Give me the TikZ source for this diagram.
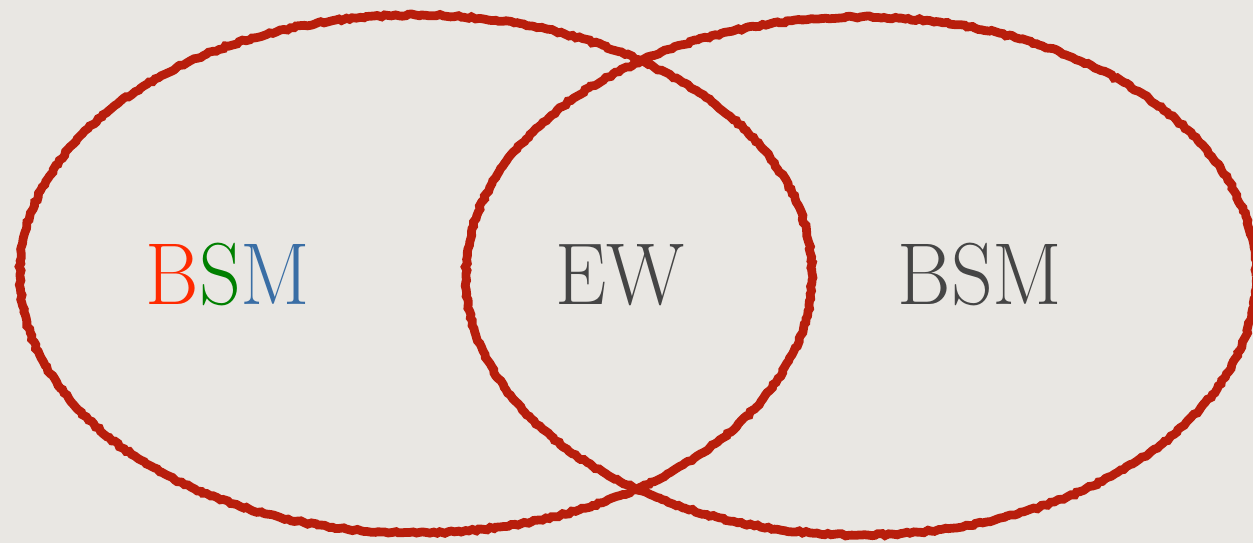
\documentclass[tikz,border=0pt]{standalone}
\usepackage{tikz}
\usetikzlibrary{decorations.pathmorphing}
\definecolor{paper}{HTML}{E9E7E3}
\definecolor{chalk}{HTML}{B81E0C}
\definecolor{inkgray}{HTML}{454545}
\definecolor{bred}{HTML}{FF2A00}
\definecolor{sgreen}{HTML}{008000}
\definecolor{mblue}{HTML}{3A6EA5}

\begin{document}
\begin{tikzpicture}[
  ring/.style={draw=chalk, line width=5pt,
    decorate, decoration={random steps, segment length=2pt, amplitude=0.6pt}},
  word/.style={anchor=base, inner sep=0pt, transform shape, xscale=0.93,
    font=\fontsize{50}{50}\selectfont}]
  \fill[paper] (0,0) rectangle (25.06,10.86);
  \useasboundingbox (0,0) rectangle (25.06,10.86);
  \draw[ring] (8.32,5.38) ellipse [x radius=7.92cm, y radius=5.18cm];
  \draw[ring] (17.22,5.34) ellipse [x radius=7.90cm, y radius=5.18cm];
  \node[word] (left) at (4.56,4.76)
    {\textcolor{bred}{B}\textcolor{sgreen}{S}\textcolor{mblue}{M}};
  \node[word, text=inkgray] (both) at (12.40,4.76) {EW};
  \node[word, text=inkgray] (right) at (19.60,4.76) {BSM};
\end{tikzpicture}
\end{document}
